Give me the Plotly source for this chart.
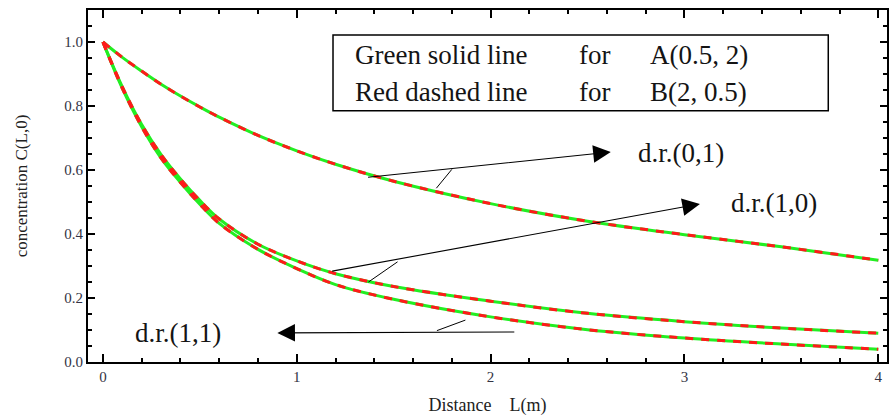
import plotly.graph_objects as go

# distance values
x_vals = [0, 0.1, 0.2, 0.3, 0.4, 0.5, 0.6, 0.8, 1.0, 1.2, 1.5, 2.0, 2.5, 3.0, 3.5, 4.0]
# d.r.(0,1)
c_01 = [1.0, 0.952, 0.909, 0.868, 0.831, 0.797, 0.765, 0.708, 0.660, 0.618, 0.565, 0.495, 0.440, 0.398, 0.360, 0.318]
# d.r.(1,0)
c_10 = [1.0, 0.860, 0.742, 0.648, 0.572, 0.505, 0.447, 0.368, 0.316, 0.276, 0.236, 0.190, 0.152, 0.126, 0.106, 0.090]
# d.r.(1,1)
c_11 = [1.0, 0.855, 0.735, 0.637, 0.561, 0.493, 0.433, 0.352, 0.292, 0.242, 0.196, 0.141, 0.101, 0.075, 0.056, 0.040]

series = [c_01, c_10, c_11]

legend_rows = [["Green solid line", "for", "A(0.5, 2)"], ["Red dashed line", "for", "B(2, 0.5)"]]
labels = ["d.r.(0,1)", "d.r.(1,0)", "d.r.(1,1)"]
x_ticks = [0, 1, 2, 3, 4]
y_ticks = [0.0, 0.2, 0.4, 0.6, 0.8, 1.0]

SERIF = "Liberation Serif, Times New Roman, serif"
fig = go.Figure()
for ys in series:
    fig.add_trace(go.Scatter(x=x_vals, y=ys, mode="lines", line=dict(color="#22ee22", width=3.0, shape="spline"),
                             showlegend=False, hoverinfo="skip"))
for ys in series:
    fig.add_trace(go.Scatter(x=x_vals, y=ys, mode="lines",
                             line=dict(color="#ff1a1a", width=3.0, dash="8px,8px", shape="spline"),
                             showlegend=False, hoverinfo="skip"))

# legend box
fig.add_shape(type="rect", xref="x", yref="y", x0=1.187, x1=3.742, y0=0.785, y1=1.022,
              line=dict(color="black", width=1.5), fillcolor="white")
seg_x = [1.29, 2.447, 2.814]
for row, yy in zip(legend_rows, [0.958, 0.844]):
    for txt, sx in zip(row, seg_x):
        fig.add_annotation(x=sx, y=yy, xref="x", yref="y", text=txt, showarrow=False, xanchor="left",
                           font=dict(family=SERIF, size=27, color="#141414"))

# arrows: (tail x, tail y, head x, head y)
arrows = [(1.36, 0.577, 2.62, 0.656), (1.175, 0.283, 3.08, 0.494), (2.13, 0.094, 0.9, 0.091)]
for (tx, ty, hx, hy) in arrows:
    fig.add_annotation(x=hx, y=hy, ax=tx, ay=ty, xref="x", yref="y", axref="x", ayref="y",
                       showarrow=True, arrowhead=2, arrowsize=3.2, arrowwidth=1.1, arrowcolor="black", text="")
# small connector ticks
connectors = [(1.80, 0.602, 1.72, 0.543), (1.52, 0.313, 1.37, 0.250), (1.87, 0.131, 1.723, 0.098)]
for (x0, y0, x1, y1) in connectors:
    fig.add_shape(type="line", xref="x", yref="y", x0=x0, y0=y0, x1=x1, y1=y1,
                  line=dict(color="black", width=1))
# label texts
label_pos = [(2.75, 0.652), (3.23, 0.497), (0.155, 0.092)]
for txt, (lx, ly) in zip(labels, label_pos):
    fig.add_annotation(x=lx, y=ly, xref="x", yref="y", text=txt, showarrow=False, xanchor="left",
                       font=dict(family=SERIF, size=27, color="#141414"))

axis_common = dict(showline=True, linecolor="black", linewidth=2, mirror="allticks", ticks="inside",
                   tickcolor="black", showgrid=False, zeroline=False, automargin=False,
                   tickfont=dict(family=SERIF, size=15, color="#333344"))
fig.update_xaxes(range=[-0.077, 4.045], tickvals=x_ticks, ticklen=8, tickwidth=1.5,
                 minor=dict(dtick=0.2, ticks="inside", ticklen=4, tickcolor="black"),
                 title=dict(text="Distance    L(m)", font=dict(family=SERIF, size=18, color="#222"), standoff=14),
                 **axis_common)
fig.update_yaxes(range=[0, 1.1], tickvals=y_ticks, tickformat=".1f", ticklen=7, tickwidth=1.5,
                 minor=dict(dtick=0.05, ticks="inside", ticklen=4, tickcolor="black"),
                 title=dict(text="concentration C(L,0)", font=dict(family=SERIF, size=17, color="#222"), standoff=32),
                 **axis_common)
fig.update_layout(width=889, height=418, margin=dict(l=88, r=2, t=10, b=56),
                  plot_bgcolor="white", paper_bgcolor="white")
fig.write_html("out.html", config={"displayModeBar": False},
               post_script="document.body.style.margin='0px';")
